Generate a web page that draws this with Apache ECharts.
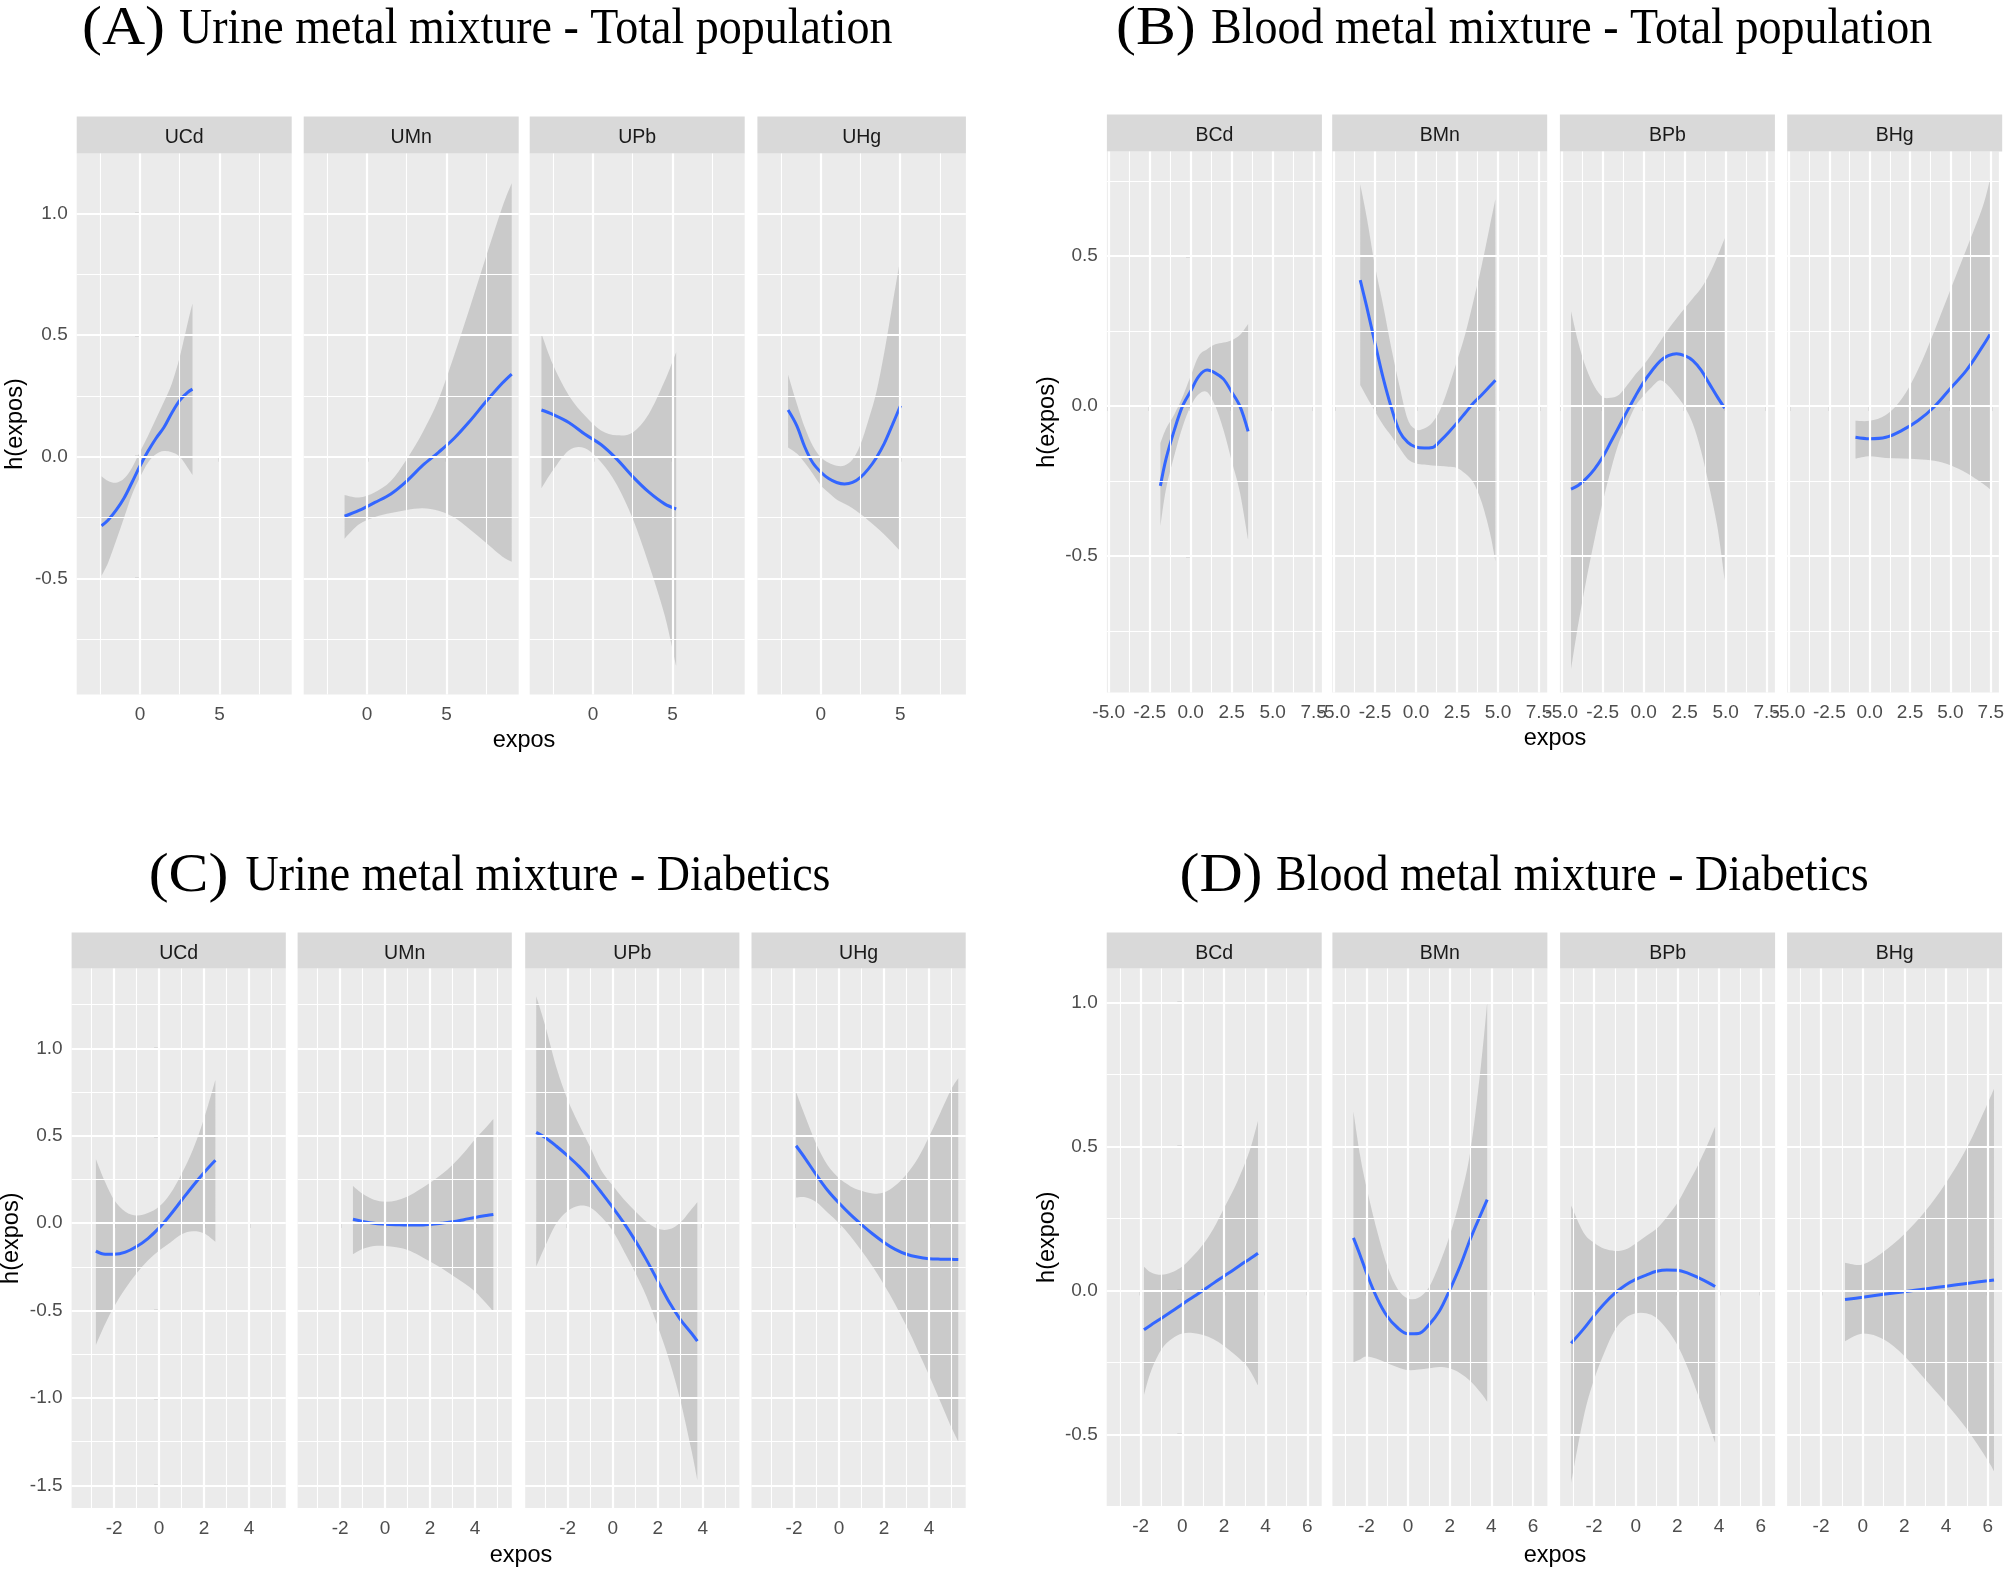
<!DOCTYPE html>
<html><head><meta charset="utf-8">
<script src="https://cdn.jsdelivr.net/npm/echarts@6/dist/echarts.min.js"></script>
<style>html,body{margin:0;padding:0;background:#fff}#c{width:2007px;height:1571px}</style>
</head><body><div id="c"></div>
<script>
// ---------------- DATA ----------------
// (A) Urine metal mixture - Total population
const A_UCd_x   = [-2.42,-2.0,-1.5,-1.0,-0.5,0,0.5,1.0,1.5,2.0,2.5,3.0,3.3];
const A_UCd_fit = [-0.284,-0.26,-0.22,-0.17,-0.105,-0.038,0.022,0.075,0.12,0.18,0.232,0.265,0.278];
const A_UCd_hi  = [-0.08,-0.1,-0.107,-0.09,-0.045,0.02,0.085,0.155,0.225,0.3,0.41,0.55,0.63];
const A_UCd_lo  = [-0.49,-0.435,-0.345,-0.25,-0.155,-0.084,-0.025,0.01,0.023,0.018,0.0,-0.045,-0.075];

const A_UMn_x   = [-1.41,-0.5,0.5,1.5,2.5,3.5,4.5,5.5,6.5,7.5,8.5,9.1];
const A_UMn_fit = [-0.245,-0.221,-0.188,-0.153,-0.1,-0.036,0.018,0.077,0.149,0.228,0.302,0.34];
const A_UMn_hi  = [-0.158,-0.168,-0.146,-0.1,-0.01,0.1,0.235,0.42,0.62,0.825,1.025,1.125];
const A_UMn_lo  = [-0.337,-0.278,-0.248,-0.232,-0.219,-0.212,-0.222,-0.25,-0.3,-0.355,-0.41,-0.432];

const A_UPb_x   = [-3.24,-2.5,-1.5,-0.5,0.5,1.5,2.5,3.5,4.5,5.23];
const A_UPb_fit = [0.192,0.173,0.14,0.092,0.05,-0.01,-0.082,-0.145,-0.194,-0.215];
const A_UPb_hi  = [0.506,0.376,0.25,0.168,0.108,0.088,0.1,0.175,0.31,0.43];
const A_UPb_lo  = [-0.13,-0.054,0.027,0.035,-0.022,-0.115,-0.255,-0.44,-0.65,-0.86];

const A_UHg_x   = [-2.05,-1.5,-1.0,-0.5,0,0.5,1.0,1.5,2.0,2.5,3.0,3.5,4.0,4.5,5.02];
const A_UHg_fit = [0.192,0.127,0.04,-0.025,-0.063,-0.09,-0.106,-0.112,-0.106,-0.085,-0.05,-0.004,0.055,0.13,0.21];
const A_UHg_hi  = [0.337,0.218,0.12,0.045,-0.002,-0.025,-0.037,-0.036,-0.012,0.05,0.15,0.265,0.43,0.62,0.82];
const A_UHg_lo  = [0.038,0.013,-0.025,-0.07,-0.117,-0.148,-0.176,-0.194,-0.212,-0.236,-0.262,-0.29,-0.32,-0.353,-0.39];

// (B) Blood metal mixture - Total population
const B_BCd_x   = [-1.85,-1.5,-1.0,-0.5,0,0.5,1.0,1.5,2.0,2.5,3.0,3.5];
const B_BCd_fit = [-0.266,-0.175,-0.08,0.0,0.05,0.1,0.12,0.11,0.09,0.047,0.0,-0.084];
const B_BCd_hi  = [-0.124,-0.075,-0.028,0.03,0.1,0.168,0.19,0.206,0.212,0.22,0.237,0.274];
const B_BCd_lo  = [-0.4,-0.275,-0.165,-0.07,0.0,0.04,0.047,0.0,-0.08,-0.183,-0.287,-0.445];

const B_BMn_x   = [-3.4,-3.0,-2.5,-2.0,-1.5,-1.0,-0.5,0,0.5,1.0,1.5,2.0,2.5,3.0,3.5,4.0,4.5,4.84];
const B_BMn_fit = [0.42,0.33,0.21,0.093,-0.006,-0.085,-0.121,-0.137,-0.14,-0.138,-0.115,-0.087,-0.056,-0.023,0.01,0.037,0.066,0.086];
const B_BMn_hi  = [0.74,0.628,0.467,0.335,0.192,0.065,-0.045,-0.078,-0.075,-0.055,-0.01,0.065,0.15,0.24,0.35,0.467,0.6,0.69];
const B_BMn_lo  = [0.07,0.03,-0.018,-0.063,-0.1,-0.14,-0.177,-0.191,-0.195,-0.198,-0.2,-0.202,-0.206,-0.225,-0.255,-0.32,-0.42,-0.517];

const B_BPb_x   = [-4.43,-4.0,-3.5,-3.0,-2.5,-2.0,-1.5,-1.0,-0.5,0,0.5,1.0,1.5,2.0,2.5,3.0,3.5,4.0,4.5,4.94];
const B_BPb_fit = [-0.277,-0.265,-0.241,-0.21,-0.17,-0.119,-0.068,-0.016,0.034,0.08,0.118,0.15,0.168,0.175,0.168,0.152,0.12,0.075,0.03,-0.007];
const B_BPb_hi  = [0.316,0.215,0.125,0.065,0.03,0.028,0.038,0.07,0.106,0.137,0.175,0.215,0.256,0.292,0.326,0.36,0.393,0.44,0.5,0.56];
const B_BPb_lo  = [-0.878,-0.73,-0.58,-0.445,-0.32,-0.212,-0.12,-0.058,0.0,0.035,0.064,0.086,0.068,0.035,-0.003,-0.06,-0.15,-0.27,-0.405,-0.58];

const B_BHg_x   = [-0.88,0,1,2,3,4,5,6,7,7.45];
const B_BHg_fit = [-0.104,-0.109,-0.104,-0.081,-0.048,-0.002,0.059,0.12,0.2,0.239];
const B_BHg_hi  = [-0.049,-0.049,-0.03,0.025,0.122,0.25,0.388,0.525,0.665,0.755];
const B_BHg_lo  = [-0.175,-0.167,-0.173,-0.175,-0.177,-0.182,-0.197,-0.223,-0.258,-0.277];

// (C) Urine metal mixture - Diabetics
const C_UCd_x   = [-2.81,-2.4,-2.0,-1.5,-1.0,-0.5,0,0.5,1.0,1.5,2.0,2.5];
const C_UCd_fit = [-0.16,-0.178,-0.178,-0.166,-0.134,-0.088,-0.027,0.048,0.131,0.213,0.29,0.36];
const C_UCd_hi  = [0.366,0.235,0.133,0.066,0.044,0.058,0.095,0.17,0.283,0.42,0.6,0.82];
const C_UCd_lo  = [-0.697,-0.577,-0.477,-0.374,-0.287,-0.214,-0.156,-0.11,-0.063,-0.046,-0.058,-0.107];

const C_UMn_x   = [-1.43,-1.0,-0.5,0,0.5,1.0,1.5,2.0,2.5,3.0,3.5,4.0,4.5,4.81];
const C_UMn_fit = [0.022,0.01,-0.001,-0.006,-0.009,-0.011,-0.011,-0.007,0.0,0.008,0.02,0.033,0.044,0.05];
const C_UMn_hi  = [0.213,0.168,0.134,0.123,0.13,0.153,0.19,0.232,0.278,0.335,0.403,0.48,0.55,0.596];
const C_UMn_lo  = [-0.178,-0.148,-0.131,-0.13,-0.138,-0.153,-0.183,-0.22,-0.257,-0.3,-0.343,-0.393,-0.46,-0.507];

const C_UPb_x   = [-3.4,-3.0,-2.5,-2.0,-1.5,-1.0,-0.5,0,0.5,1.0,1.5,2.0,2.5,3.0,3.5,3.76];
const C_UPb_fit = [0.52,0.49,0.44,0.385,0.325,0.255,0.175,0.09,0.0,-0.1,-0.21,-0.33,-0.45,-0.55,-0.63,-0.675];
const C_UPb_hi  = [1.298,1.13,0.89,0.705,0.565,0.434,0.3,0.215,0.135,0.068,0.008,-0.032,-0.035,0.003,0.08,0.12];
const C_UPb_lo  = [-0.248,-0.13,0.0,0.07,0.1,0.09,0.035,-0.045,-0.16,-0.283,-0.42,-0.59,-0.78,-1.01,-1.3,-1.47];

const C_UHg_x   = [-1.91,-1.5,-1.0,-0.5,0,0.5,1.0,1.5,2.0,2.5,3.0,3.5,4.0,4.5,5.0,5.3];
const C_UHg_fit = [0.443,0.37,0.275,0.187,0.115,0.05,-0.008,-0.062,-0.11,-0.15,-0.178,-0.194,-0.203,-0.206,-0.207,-0.208];
const C_UHg_hi  = [0.75,0.61,0.45,0.33,0.258,0.212,0.185,0.17,0.175,0.215,0.28,0.37,0.495,0.63,0.77,0.83];
const C_UHg_lo  = [0.147,0.148,0.12,0.06,0.0,-0.073,-0.158,-0.25,-0.353,-0.465,-0.59,-0.728,-0.87,-1.02,-1.17,-1.25];

// (D) Blood metal mixture - Diabetics
const D_BCd_x   = [-1.84,-1.5,-1.0,-0.5,0,0.5,1.0,1.5,2.0,2.5,3.0,3.3,3.63];
const D_BCd_fit = [-0.137,-0.12,-0.097,-0.073,-0.048,-0.024,0.0,0.025,0.049,0.073,0.098,0.112,0.129];
const D_BCd_hi  = [0.082,0.062,0.054,0.063,0.083,0.118,0.16,0.215,0.285,0.355,0.44,0.5,0.588];
const D_BCd_lo  = [-0.363,-0.28,-0.205,-0.168,-0.15,-0.148,-0.155,-0.17,-0.193,-0.222,-0.255,-0.285,-0.33];

const D_BMn_x   = [-2.62,-2.3,-2.0,-1.5,-1.0,-0.5,0,0.5,1.0,1.5,2.0,2.5,3.0,3.5,3.8];
const D_BMn_fit = [0.182,0.122,0.062,-0.025,-0.09,-0.13,-0.151,-0.15,-0.12,-0.073,0.001,0.084,0.18,0.265,0.315];
const D_BMn_hi  = [0.621,0.468,0.36,0.21,0.085,0.005,-0.028,-0.026,0.01,0.09,0.19,0.318,0.486,0.78,1.0];
const D_BMn_lo  = [-0.25,-0.24,-0.23,-0.238,-0.253,-0.267,-0.277,-0.275,-0.271,-0.266,-0.271,-0.288,-0.316,-0.357,-0.387];

const D_BPb_x   = [-3.1,-2.5,-2.0,-1.5,-1.0,-0.5,0,0.5,1.0,1.5,2.0,2.5,3.0,3.5,3.81];
const D_BPb_fit = [-0.184,-0.134,-0.088,-0.046,-0.01,0.018,0.038,0.053,0.066,0.071,0.07,0.06,0.044,0.026,0.013];
const D_BPb_hi  = [0.295,0.2,0.165,0.144,0.137,0.142,0.163,0.189,0.214,0.255,0.303,0.368,0.436,0.515,0.568];
const D_BPb_lo  = [-0.669,-0.44,-0.31,-0.215,-0.138,-0.097,-0.08,-0.08,-0.096,-0.135,-0.19,-0.27,-0.365,-0.465,-0.529];

const D_BHg_x   = [-0.85,0,1,2,3,4,5,6,6.3];
const D_BHg_fit = [-0.032,-0.024,-0.014,-0.005,0.005,0.014,0.024,0.033,0.036];
const D_BHg_hi  = [0.096,0.09,0.134,0.196,0.275,0.374,0.495,0.65,0.7];
const D_BHg_lo  = [-0.177,-0.15,-0.17,-0.228,-0.31,-0.392,-0.482,-0.59,-0.628];

// tick labels / grid breaks
const A_xTicks = [0,5];                 const A_xMinor = [-2.5,2.5,7.5];
const A_yTicks = [-0.5,0,0.5,1.0];      const A_yMinor = [-0.75,-0.25,0.25,0.75];
const B_xTicks = [-5,-2.5,0,2.5,5,7.5]; const B_xMinor = [-3.75,-1.25,1.25,3.75,6.25];
const B_yTicks = [-0.5,0,0.5];          const B_yMinor = [-0.75,-0.25,0.25,0.75];
const C_xTicks = [-2,0,2,4];            const C_xMinor = [-3,-1,1,3,5];
const C_yTicks = [-1.5,-1,-0.5,0,0.5,1.0]; const C_yMinor = [-1.25,-0.75,-0.25,0.25,0.75,1.25];
const D_xTicks = [-2,0,2,4,6];          const D_xMinor = [-3,-1,1,3,5];
const D_yTicks = [-0.5,0,0.5,1.0];      const D_yMinor = [-0.25,0.25,0.75];

const urineMetals = ['UCd','UMn','UPb','UHg'];
const bloodMetals = ['BCd','BMn','BPb','BHg'];

// ---------------- LAYOUT ----------------
const groups = [
 {tag:'(A)', title:'Urine metal mixture - Total population', metals:urineMetals,
  data:[[A_UCd_x,A_UCd_fit,A_UCd_lo,A_UCd_hi],[A_UMn_x,A_UMn_fit,A_UMn_lo,A_UMn_hi],[A_UPb_x,A_UPb_fit,A_UPb_lo,A_UPb_hi],[A_UHg_x,A_UHg_fit,A_UHg_lo,A_UHg_hi]],
  xTicks:A_xTicks,xMinor:A_xMinor,yTicks:A_yTicks,yMinor:A_yMinor,xFmt:v=>String(v),
  lefts:[76.7,303.7,529.7,757.4],widths:[215,215,215,208.5],top:153.5,bottom:694.5,stripTop:116.5,
  xMin:-3.98,xMax:[9.54,9.54,9.54,9.13],yMin:-0.978,yMax:1.247,
  tagX:82,textX:179,titleY:30,ylabX:16,expX:524,expY:741},
 {tag:'(B)', title:'Blood metal mixture - Total population', metals:bloodMetals,
  data:[[B_BCd_x,B_BCd_fit,B_BCd_lo,B_BCd_hi],[B_BMn_x,B_BMn_fit,B_BMn_lo,B_BMn_hi],[B_BPb_x,B_BPb_fit,B_BPb_lo,B_BPb_hi],[B_BHg_x,B_BHg_fit,B_BHg_lo,B_BHg_hi]],
  xTicks:B_xTicks,xMinor:B_xMinor,yTicks:B_yTicks,yMinor:B_yMinor,xFmt:v=>v.toFixed(1),
  lefts:[1106.9,1332.2,1559.9,1787.2],widths:[215,215,215,215],top:151.5,bottom:692.5,stripTop:114.5,
  xMin:-5.11,xMax:[8.0,8.0,8.0,8.0],yMin:-0.955,yMax:0.849,
  tagX:1116,textX:1211,titleY:30,ylabX:1048,expX:1555,expY:739},
 {tag:'(C)', title:'Urine metal mixture - Diabetics', metals:urineMetals,
  data:[[C_UCd_x,C_UCd_fit,C_UCd_lo,C_UCd_hi],[C_UMn_x,C_UMn_fit,C_UMn_lo,C_UMn_hi],[C_UPb_x,C_UPb_fit,C_UPb_lo,C_UPb_hi],[C_UHg_x,C_UHg_fit,C_UHg_lo,C_UHg_hi]],
  xTicks:C_xTicks,xMinor:C_xMinor,yTicks:C_yTicks,yMinor:C_yMinor,xFmt:v=>String(v),
  lefts:[71.6,297.6,525.2,751.5],widths:[214.2,214.2,214.2,214.2],top:968.4,bottom:1508,stripTop:932.5,
  xMin:-3.89,xMax:[5.63,5.63,5.63,5.63],yMin:-1.63,yMax:1.458,
  tagX:148.7,textX:245.5,titleY:876.6,ylabX:12,expX:521,expY:1556},
 {tag:'(D)', title:'Blood metal mixture - Diabetics', metals:bloodMetals,
  data:[[D_BCd_x,D_BCd_fit,D_BCd_lo,D_BCd_hi],[D_BMn_x,D_BMn_fit,D_BMn_lo,D_BMn_hi],[D_BPb_x,D_BPb_fit,D_BPb_lo,D_BPb_hi],[D_BHg_x,D_BHg_fit,D_BHg_lo,D_BHg_hi]],
  xTicks:D_xTicks,xMinor:D_xMinor,yTicks:D_yTicks,yMinor:D_yMinor,xFmt:v=>String(v),
  lefts:[1106.7,1332.4,1560.1,1787.1],widths:[215,215,215,215],top:968.4,bottom:1506,stripTop:932.5,
  xMin:-3.63,xMax:[6.69,6.69,6.69,6.69],yMin:-0.749,yMax:1.118,
  tagX:1179.5,textX:1276,titleY:876.6,ylabX:1048,expX:1555,expY:1556}
];

const SANS = 'Liberation Sans';
const SERIF = 'Liberation Serif';
const RIBBON = 'rgba(153,153,153,0.4)';
const grids=[], xAxes=[], yAxes=[], series=[], graphics=[];

// Catmull-Rom spline through projected pixel points -> SVG path commands
function splineCmds(p){
  let s='';
  for(let i=0;i<p.length-1;i++){
    const p0=p[Math.max(i-1,0)], p1=p[i], p2=p[i+1], p3=p[Math.min(i+2,p.length-1)];
    const c1=[p1[0]+(p2[0]-p0[0])/6, p1[1]+(p2[1]-p0[1])/6];
    const c2=[p2[0]-(p3[0]-p1[0])/6, p2[1]-(p3[1]-p1[1])/6];
    s+=' C'+c1[0].toFixed(2)+' '+c1[1].toFixed(2)+' '+c2[0].toFixed(2)+' '+c2[1].toFixed(2)+' '+p2[0].toFixed(2)+' '+p2[1].toFixed(2);
  }
  return s;
}

groups.forEach(g=>{
  graphics.push({type:'text', x:g.tagX, y:g.titleY, scaleX:1.15, scaleY:1.04, z:10,
    style:{text:g.tag, fontSize:52, fontFamily:SERIF, fill:'#000', align:'left', verticalAlign:'middle', textAlign:'left', textVerticalAlign:'middle'}});
  graphics.push({type:'text', x:g.textX, y:g.titleY, scaleY:1.1, z:10,
    style:{text:g.title, fontSize:46, fontFamily:SERIF, fill:'#000', align:'left', verticalAlign:'middle', textAlign:'left', textVerticalAlign:'middle'}});
  graphics.push({type:'text', x:g.ylabX, y:(g.top+g.bottom)/2, rotation:Math.PI/2, z:10,
    style:{text:'h(expos)', fontSize:23.5, fontFamily:SANS, fill:'#000', align:'center', verticalAlign:'middle', textAlign:'center', textVerticalAlign:'middle'}});
  graphics.push({type:'text', x:g.expX, y:g.expY, z:10,
    style:{text:'expos', fontSize:23.5, fontFamily:SANS, fill:'#000', align:'center', verticalAlign:'middle', textAlign:'center', textVerticalAlign:'middle'}});

  g.metals.forEach((m,pi)=>{
    const gi = grids.length;
    const left=g.lefts[pi], w=g.widths[pi];
    grids.push({left:left, top:g.top, width:w, height:g.bottom-g.top, show:true, backgroundColor:'#EBEBEB', borderWidth:0, containLabel:false});
    graphics.push({type:'rect', shape:{x:left, y:g.stripTop, width:w, height:g.top-g.stripTop}, style:{fill:'#D9D9D9'}, z:5});
    graphics.push({type:'text', x:left+w/2, y:(g.stripTop+g.top)/2+3, z:10,
      style:{text:m, fontSize:19.5, fontFamily:SANS, fill:'#1A1A1A', align:'center', verticalAlign:'middle', textAlign:'center', textVerticalAlign:'middle'}});

    xAxes.push({gridIndex:gi, type:'value', min:g.xMin, max:g.xMax[pi],
      axisLine:{show:false}, splitLine:{show:false}, minorSplitLine:{show:false},
      axisTick:{show:true, customValues:g.xTicks, length:5, lineStyle:{color:'#333333', width:1.2}},
      axisLabel:{show:true, customValues:g.xTicks, formatter:g.xFmt, color:'#4D4D4D', fontSize:19, fontFamily:SANS, margin:11}});
    yAxes.push({gridIndex:gi, type:'value', min:g.yMin, max:g.yMax, show: pi===0,
      axisLine:{show:false}, splitLine:{show:false}, minorSplitLine:{show:false},
      axisTick:{show:true, customValues:g.yTicks, length:5, lineStyle:{color:'#333333', width:1.2}},
      axisLabel:{show:true, customValues:g.yTicks, formatter:v=>v.toFixed(1), color:'#4D4D4D', fontSize:19, fontFamily:SANS, margin:9}});

    const [xs,fit,lo,hi] = g.data[pi];
    const fitData = xs.map((x,i)=>[x,fit[i]]);
    const ml = [];
    g.xMinor.forEach(v=>ml.push({xAxis:v, lineStyle:{width:1.1}}));
    g.yMinor.forEach(v=>ml.push({yAxis:v, lineStyle:{width:1.1}}));
    g.xTicks.forEach(v=>ml.push({xAxis:v, lineStyle:{width:2.2}}));
    g.yTicks.forEach(v=>ml.push({yAxis:v, lineStyle:{width:2.2}}));
    series.push({type:'line', xAxisIndex:gi, yAxisIndex:gi, z:1, data:fitData, showSymbol:false, silent:true,
      lineStyle:{opacity:0, width:0}, animation:false,
      markLine:{silent:true, symbol:['none','none'], label:{show:false}, animation:false,
        lineStyle:{color:'#FFFFFF', type:'solid'}, emphasis:{disabled:true}, data:ml}});
    series.push({type:'custom', xAxisIndex:gi, yAxisIndex:gi, z:2, silent:true, animation:false,
      data:[[xs[0], lo[0]]],
      renderItem:function(params, api){
        const up=xs.map((x,i)=>api.coord([x,hi[i]]));
        const dn=xs.map((x,i)=>api.coord([x,lo[i]])).reverse();
        let d='M'+up[0][0].toFixed(2)+' '+up[0][1].toFixed(2)+splineCmds(up);
        d+=' L'+dn[0][0].toFixed(2)+' '+dn[0][1].toFixed(2)+splineCmds(dn)+' Z';
        return {type:'path', shape:{pathData:d}, style:{fill:RIBBON, stroke:null}};
      }});
    series.push({type:'line', xAxisIndex:gi, yAxisIndex:gi, z:3, data:fitData, showSymbol:false, silent:true,
      smooth:0.35, animation:false, lineStyle:{color:'#3366FF', width:3, type:'solid'}});
  });
});

const chart = echarts.init(document.getElementById('c'), null, {renderer:'canvas'});
chart.setOption({
  backgroundColor:'#FFFFFF',
  animation:false,
  grid:grids, xAxis:xAxes, yAxis:yAxes, series:series,
  graphic:{elements:graphics}
});
</script></body></html>
